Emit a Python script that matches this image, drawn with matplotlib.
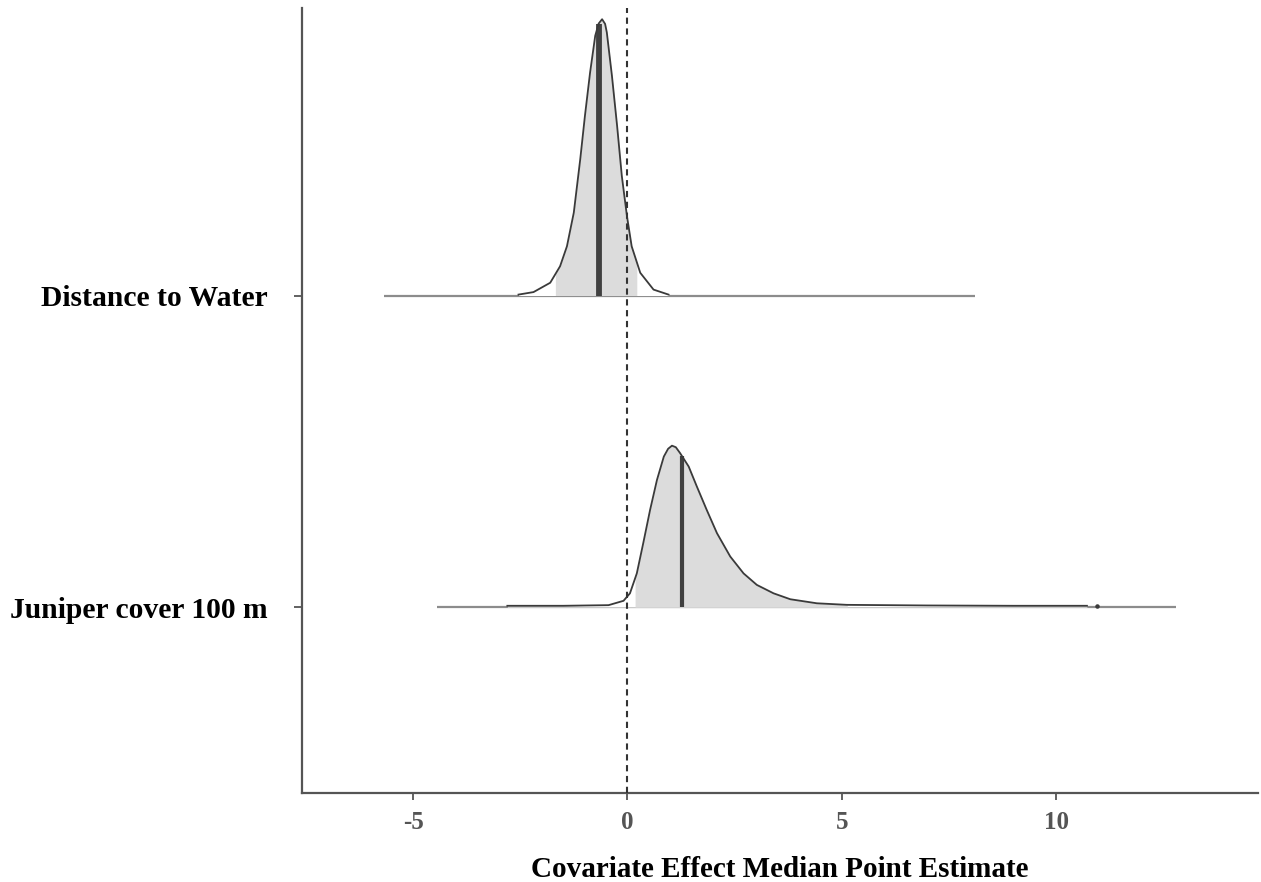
import numpy as np
import matplotlib
matplotlib.use("Agg")
import matplotlib.pyplot as plt

# covariates, bottom to top
covariates = ["Juniper cover 100 m", "Distance to Water"]

# posterior density outline for each covariate (x value, ridge height)
juniper_x = [-2.80, -1.50, -0.44, -0.09, 0.06, 0.22, 0.37, 0.53, 0.69, 0.85, 0.95, 1.04,
             1.13, 1.23, 1.43, 1.62, 1.85, 2.09, 2.40, 2.71, 3.02, 3.41, 3.80, 4.42,
             5.12, 7.00, 9.00, 10.72]
juniper_h = [0.004, 0.004, 0.006, 0.020, 0.044, 0.108, 0.205, 0.312, 0.408, 0.483, 0.508, 0.518,
             0.513, 0.494, 0.451, 0.387, 0.312, 0.237, 0.162, 0.108, 0.071, 0.044, 0.025, 0.012,
             0.007, 0.005, 0.004, 0.004]

water_x = [-2.54, -2.19, -1.80, -1.57, -1.41, -1.25, -1.10, -0.99, -0.87, -0.75, -0.67,
           -0.59, -0.52, -0.48, -0.36, -0.24, -0.13, -0.01, 0.10, 0.30, 0.61, 0.96]
water_h = [0.003, 0.011, 0.041, 0.094, 0.158, 0.266, 0.437, 0.577, 0.716, 0.834, 0.873,
           0.887, 0.872, 0.845, 0.705, 0.545, 0.384, 0.255, 0.158, 0.073, 0.019, 0.003]

# medians, shaded credible intervals and full range of the draws
medians = [1.27, -0.67]
interval_lo = [0.18, -1.68]
interval_hi = [5.13, 0.22]
range_lo = [-4.44, -5.68]
range_hi = [12.80, 8.12]
outlier_x = [10.96]

xticks = [-5, 0, 5, 10]

serif = "Liberation Serif"
outline = "#3a3a3a"

fig = plt.figure(figsize=(12.61, 8.82), dpi=100)
ax = fig.add_axes([302 / 1261, 1 - 793 / 882, (1258 - 302) / 1261, (793 - 8) / 882])

curves = [(juniper_x, juniper_h), (water_x, water_h)]
for i, (xs, hs) in enumerate(curves):
    base = i + 1
    xs = np.array(xs)
    hs = np.array(hs)
    # full range line
    ax.plot([range_lo[i], range_hi[i]], [base, base], color="#8c8c8c", lw=1.6,
            solid_capstyle="butt", zorder=1)
    # white body under the curve, then the shaded interval
    ax.fill_between(xs, base, base + hs, color="white", lw=0, zorder=2)
    inside = (xs > interval_lo[i]) & (xs < interval_hi[i])
    fx = np.concatenate([[interval_lo[i]], xs[inside], [interval_hi[i]]])
    fh = np.interp(fx, xs, hs)
    ax.fill_between(fx, base, base + fh, color="#dcdcdc", lw=0, zorder=3)
    # median line up to the curve
    mh = np.interp(medians[i], xs, hs)
    ax.plot([medians[i], medians[i]], [base, base + mh], color="#404040",
            lw=4.2 if i == 1 else 3.0, solid_capstyle="butt", zorder=4)
    ax.plot(xs, base + hs, color=outline, lw=1.3, zorder=5, solid_joinstyle="round")

ax.scatter(outlier_x, [1.004], s=5, color=outline, zorder=5)

ax.axvline(0, color="#333333", lw=1.5, dashes=(3, 2.2), zorder=6)

ax.set_xlim(-7.59, 14.71)
ax.set_ylim(0.403, 2.923)
ax.set_xticks(xticks)
ax.set_xticklabels([str(t) for t in xticks])
ax.set_yticks([1, 2])
ax.set_yticklabels(covariates)

for side in ["top", "right"]:
    ax.spines[side].set_visible(False)
for side in ["left", "bottom"]:
    ax.spines[side].set_color("#555555")
    ax.spines[side].set_linewidth(1.6)

ax.tick_params(axis="x", length=5, width=1.3, color="#555555", pad=8,
               labelsize=18, labelcolor="#555555")
ax.tick_params(axis="y", length=6, width=1.3, color="#555555", pad=19,
               labelsize=21.3, labelcolor="black")
for lab in ax.get_xticklabels() + ax.get_yticklabels():
    lab.set_fontfamily(serif)
    lab.set_fontweight("bold")

fig.text(780 / 1261, 1 - 877 / 882, "Covariate Effect Median Point Estimate",
         ha="center", va="baseline", fontsize=21, fontweight="bold",
         fontfamily=serif, color="black")

fig.savefig("out.png", dpi=100)
